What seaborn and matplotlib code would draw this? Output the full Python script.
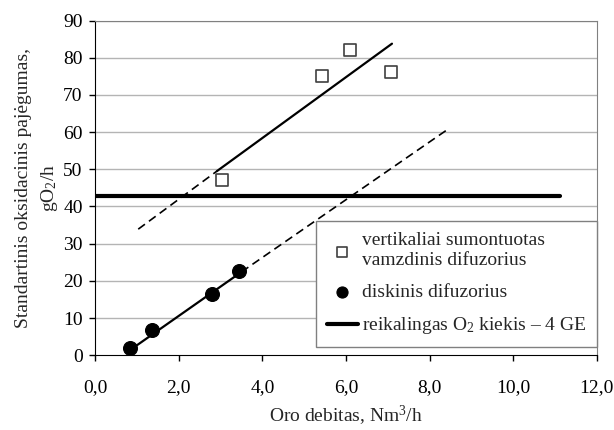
import numpy as np
import pandas as pd
import matplotlib
matplotlib.use('Agg')
import matplotlib.pyplot as plt
import seaborn as sns

# Matavimų taškai
vamzd_x = [3.03, 5.43, 6.1, 7.07]
vamzd_y = [47.0, 75.1, 82.2, 76.2]
disk_x = [0.84, 1.35, 2.79, 3.44]
disk_y = [1.8, 6.7, 16.4, 22.7]

# Tendencijų linijos (nuskaityta nuo paveikslo)
vamzd_trend_x = [2.91, 7.1]
vamzd_trend_y = [49.5, 83.8]
vamzd_ext_x = [1.03, 2.91]
vamzd_ext_y = [33.9, 49.5]
disk_trend_x = [0.8, 3.5]
disk_trend_y = [1.1, 22.4]
disk_ext_x = [3.5, 8.44]
disk_ext_y = [22.4, 60.8]

# Reikalingas O2 kiekis
req_x = [0.0, 11.12]
req_y = [42.7, 42.7]

x_ticks = [0, 2, 4, 6, 8, 10, 12]
x_labels = ['0,0', '2,0', '4,0', '6,0', '8,0', '10,0', '12,0']
y_ticks = list(range(0, 100, 10))

sns.set_style('white')
plt.rcParams['font.family'] = ['Liberation Serif', 'DejaVu Serif']
plt.rcParams['mathtext.fontset'] = 'custom'
plt.rcParams['mathtext.rm'] = 'Liberation Serif'
plt.rcParams['mathtext.it'] = 'Liberation Serif:italic'

fig = plt.figure(figsize=(6.14, 4.30), dpi=100)
ax = fig.add_axes([0.155, 0.174, 0.817, 0.778])

for y in y_ticks[1:]:
    ax.axhline(y, color='#b4b4b4', lw=1.0, zorder=0)

sns.lineplot(x=vamzd_trend_x, y=vamzd_trend_y, ax=ax, color='black', lw=1.6)
sns.lineplot(x=vamzd_ext_x, y=vamzd_ext_y, ax=ax, color='black', lw=1.2, linestyle=(0, (5, 3)))
sns.lineplot(x=disk_trend_x, y=disk_trend_y, ax=ax, color='black', lw=1.6)
sns.lineplot(x=disk_ext_x, y=disk_ext_y, ax=ax, color='black', lw=1.2, linestyle=(0, (5, 3)))

ax.plot(req_x, req_y, color='black', lw=3, label='reikalingas O$_2$ kiekis – 4 GE', zorder=3)

sns.scatterplot(x=vamzd_x, y=vamzd_y, ax=ax, marker='s', s=75, facecolor='white',
                edgecolor='#404040', linewidth=1.2,
                label='vertikaliai sumontuotas\nvamzdinis difuzorius', zorder=4)
sns.scatterplot(x=disk_x, y=disk_y, ax=ax, marker='o', s=100, color='black',
                edgecolor='black', label='diskinis difuzorius', zorder=4)

ax.set_xlim(0, 12)
ax.set_ylim(0, 90)
ax.set_xticks(x_ticks)
ax.set_xticklabels(x_labels)
ax.set_yticks(y_ticks)
ax.tick_params(axis='both', labelsize=14, direction='out', length=4, width=1,
               bottom=True, left=True, colors='black')
ax.tick_params(axis='x', pad=13)
ax.tick_params(axis='y', pad=5)

for side in ['top', 'right']:
    ax.spines[side].set_color('#808080')
for side in ['left', 'bottom']:
    ax.spines[side].set_color('black')

ax.set_xlabel('Oro debitas, Nm$^3$/h', fontsize=14, labelpad=6)
ax.set_ylabel('Standartinis oksidacinis pajėgumas,\ngO$_2$/h', fontsize=14, labelpad=2,
              linespacing=1.5)

handles, labels = ax.get_legend_handles_labels()
order = [1, 2, 0]
leg = ax.legend([handles[i] for i in order], [labels[i] for i in order],
                loc='lower right', bbox_to_anchor=(1.0, 0.024), fontsize=14,
                frameon=True, fancybox=False, edgecolor='#808080', framealpha=1,
                handlelength=1.6, handletextpad=0.2, borderaxespad=0, labelspacing=0.75,
                markerscale=0.8, borderpad=0.55)

fig.savefig('out.png', dpi=100)
